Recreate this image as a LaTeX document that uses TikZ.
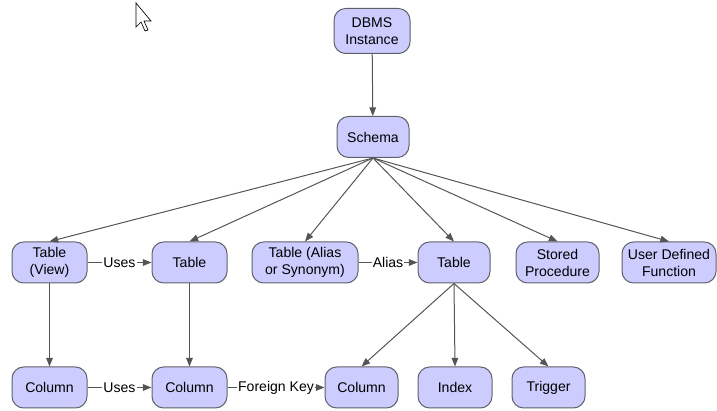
\documentclass[tikz,border=0pt]{standalone}
\usepackage{fontspec}
\setmainfont{Liberation Sans}
\usetikzlibrary{arrows.meta}
\definecolor{boxfill}{RGB}{204,204,255}
\definecolor{boxline}{RGB}{96,96,104}
\definecolor{edgeline}{RGB}{85,85,85}
\begin{document}
\begin{tikzpicture}[
    entity/.style={draw=boxline, fill=boxfill, line width=0.03cm, rounded corners=0.35cm,
                   inner sep=0pt, align=center, minimum height=1.23cm},
    link/.style={draw=edgeline, line width=0.03cm, -{Triangle[length=0.26cm,width=0.2cm]}},
    linklabel/.style={fill=white, inner sep=1pt}
  ]
                    \useasboundingbox (0.000000,0.000000) rectangle (21.510000,12.330000);
                    {\fontsize{12}{14.5}\selectfont

                    % Marking the mouse pointer
                    \draw [line width=0.02cm, fill=white] (4.080000,12.240000) -- (4.080000,11.520000) -- (4.230000,11.670000) -- (4.350000,11.400000) -- (4.440000,11.430000) -- (4.320000,11.700000) -- (4.530000,11.700000) -- cycle;%

                    % Marking top nodes
                    \node [entity, minimum width=2.28cm, minimum height=1.35cm] (dbms) at (11.160000,11.400000) {DBMS\\Instance};%
                    \node [entity, minimum width=2.16cm] (schema) at (11.190000,8.220000) {Schema};%

                    % Marking object nodes
                    \node [entity, minimum width=2.25cm] (view) at (1.485000,4.455000) {Table\\(View)};%
                    \node [entity, minimum width=2.25cm] (table) at (5.685000,4.455000) {Table};%
                    \node [entity, minimum width=3.18cm] (alias) at (9.150000,4.455000) {Table (Alias\\or Synonym)};%
                    \node [entity, minimum width=2.16cm] (target) at (13.620000,4.455000) {Table};%
                    \node [entity, minimum width=2.49cm] (proc) at (16.725000,4.455000) {Stored\\Procedure};%
                    \node [entity, minimum width=2.82cm] (udf) at (20.070000,4.455000) {User Defined\\Function};%

                    % Marking column nodes
                    \node [entity, minimum width=2.25cm] (viewcol) at (1.485000,0.705000) {Column};%
                    \node [entity, minimum width=2.25cm] (tablecol) at (5.685000,0.705000) {Column};%
                    \node [entity, minimum width=2.19cm] (targetcol) at (10.845000,0.705000) {Column};%
                    \node [entity, minimum width=2.22cm] (index) at (13.650000,0.705000) {Index};%
                    \node [entity, minimum width=2.19cm] (trigger) at (16.455000,0.705000) {Trigger};%

                    % Drawing segment dbms schema
                    \draw [link] (dbms) -- (schema);%

                    % Drawing fan schema objects
                    \foreach \obj in {view, table, alias, target, proc, udf}
                      \draw [link] (schema.south) -- (\obj.north);%

                    % Drawing segments down to columns
                    \draw [link] (view) -- (viewcol);%
                    \draw [link] (table) -- (tablecol);%
                    \foreach \obj in {targetcol, index, trigger}
                      \draw [link] (target.south) -- (\obj.north);%

                    % Drawing labelled segments
                    \draw [link] (view) -- node [linklabel] {Uses} (table);%
                    \draw [link] (alias) -- node [linklabel] {Alias} (target);%
                    \draw [link] (viewcol) -- node [linklabel] {Uses} (tablecol);%
                    \draw [link] (tablecol) -- node [linklabel] {Foreign Key} (targetcol);%
                    }
                \end{tikzpicture}
\end{document}
